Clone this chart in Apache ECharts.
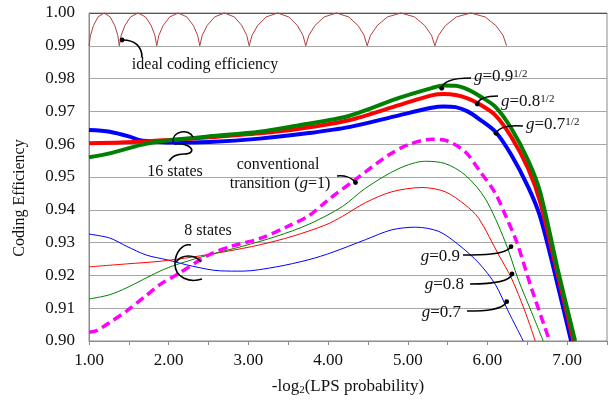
<!DOCTYPE html>
<html>
<head>
<meta charset="utf-8">
<script src="https://cdn.jsdelivr.net/npm/echarts@6/dist/echarts.min.js"></script>
<style>
  html, body { margin: 0; padding: 0; background: #fff; }
  #chart { width: 610px; height: 401px; }
</style>
</head>
<body>
<div id="chart"></div>
<script>
// tick labels
var xTickLabels = ['1.00', '2.00', '3.00', '4.00', '5.00', '6.00', '7.00'];
var yTickLabels = ['0.90', '0.91', '0.92', '0.93', '0.94', '0.95', '0.96', '0.97', '0.98', '0.99', '1.00'];

// ideal coding efficiency (scallops between 0.99 and 1.00)
var idealX = [1.00, 1.019, 1.057, 1.114, 1.19, 1.266, 1.323, 1.361,
  1.38, 1.404, 1.451, 1.521, 1.615, 1.709, 1.780, 1.827,
  1.85, 1.877, 1.931, 2.012, 2.12, 2.228, 2.309, 2.363,
  2.39, 2.421, 2.483, 2.576, 2.70, 2.824, 2.917, 2.979,
  3.01, 3.046, 3.117, 3.223, 3.365, 3.507, 3.614, 3.685,
  3.72, 3.759, 3.836, 3.951, 4.105, 4.259, 4.375, 4.452,
  4.49, 4.533, 4.618, 4.745, 4.915, 5.085, 5.213, 5.298,
  5.34, 5.385, 5.475, 5.61, 5.79, 5.97, 6.105, 6.195, 6.24];
var idealY = [0.990, 0.9932, 0.9962, 0.9988, 1.000, 0.9988, 0.9962, 0.9932,
  0.990, 0.9932, 0.9962, 0.9988, 1.000, 0.9988, 0.9962, 0.9932,
  0.990, 0.9932, 0.9962, 0.9988, 1.000, 0.9988, 0.9962, 0.9932,
  0.990, 0.9932, 0.9962, 0.9988, 1.000, 0.9988, 0.9962, 0.9932,
  0.990, 0.9932, 0.9962, 0.9988, 1.000, 0.9988, 0.9962, 0.9932,
  0.990, 0.9932, 0.9962, 0.9988, 1.000, 0.9988, 0.9962, 0.9932,
  0.990, 0.9932, 0.9962, 0.9988, 1.000, 0.9988, 0.9962, 0.9932,
  0.990, 0.9932, 0.9962, 0.9988, 1.000, 0.9988, 0.9962, 0.9932, 0.990];

// 16 states
var g07sqX = [1.00, 1.26, 1.51, 1.64, 1.76, 2.01, 2.51, 3.14, 3.76, 4.26, 4.89, 5.30, 5.45, 5.60, 5.75, 5.90, 6.10, 6.30, 6.51, 6.66, 6.85, 7.05];
var g07sqY = [0.9643, 0.9638, 0.9623, 0.9612, 0.9609, 0.9605, 0.9607, 0.9617, 0.9634, 0.9652, 0.9688, 0.9711, 0.9715, 0.9713, 0.9700, 0.9676, 0.9638, 0.9567, 0.9470, 0.9380, 0.9202, 0.9000];
var g08sqX = [1.00, 1.40, 1.76, 2.01, 2.51, 3.14, 3.64, 4.26, 4.89, 5.30, 5.45, 5.60, 5.75, 5.90, 6.10, 6.30, 6.51, 6.66, 6.87, 7.08];
var g08sqY = [0.9603, 0.9605, 0.9609, 0.9613, 0.9621, 0.9633, 0.9647, 0.9673, 0.9719, 0.9749, 0.9753, 0.9750, 0.9740, 0.9722, 0.9688, 0.9622, 0.9526, 0.9425, 0.9215, 0.9000];
var g09sqX = [1.00, 1.26, 1.64, 1.80, 2.01, 2.51, 3.14, 3.64, 4.26, 4.89, 5.30, 5.45, 5.60, 5.75, 5.90, 6.10, 6.30, 6.51, 6.66, 6.89, 7.10];
var g09sqY = [0.9560, 0.9572, 0.9597, 0.9605, 0.9612, 0.9624, 0.9638, 0.9658, 0.9686, 0.9741, 0.9771, 0.9779, 0.9778, 0.9767, 0.9747, 0.9714, 0.9648, 0.9551, 0.9455, 0.9210, 0.9000];

// conventional transition (g=1)
var convX = [1.00, 1.10, 1.25, 1.47, 1.70, 1.89, 2.10, 2.51, 2.80, 3.14, 3.50, 3.76, 4.00, 4.33, 4.76, 5.01, 5.30, 5.47, 5.72, 5.91, 6.10, 6.24, 6.37, 6.56, 6.78];
var convY = [0.9027, 0.9032, 0.9055, 0.9091, 0.9135, 0.9172, 0.9202, 0.9263, 0.9290, 0.9312, 0.9350, 0.9382, 0.9430, 0.9490, 0.9567, 0.9599, 0.9615, 0.9612, 0.9577, 0.9516, 0.9450, 0.9375, 0.9300, 0.9155, 0.9000];

// 8 states
var g07X = [1.00, 1.26, 1.47, 1.72, 1.97, 2.30, 2.64, 2.93, 3.35, 3.76, 4.05, 4.47, 4.80, 5.10, 5.39, 5.64, 5.89, 6.10, 6.26, 6.45];
var g07Y = [0.9326, 0.9314, 0.9289, 0.9262, 0.9248, 0.9228, 0.9214, 0.9213, 0.9226, 0.9248, 0.9270, 0.9309, 0.9339, 0.9347, 0.9334, 0.9293, 0.9238, 0.9172, 0.9091, 0.9000];
var g08X = [1.00, 1.47, 1.89, 2.30, 2.72, 3.14, 3.55, 3.97, 4.18, 4.47, 4.80, 5.18, 5.47, 5.72, 5.89, 6.14, 6.30, 6.47, 6.60];
var g08Y = [0.9226, 0.9235, 0.9243, 0.9256, 0.9273, 0.9293, 0.9319, 0.9354, 0.9380, 0.9422, 0.9455, 0.9468, 0.9455, 0.9415, 0.9374, 0.9263, 0.9192, 0.9091, 0.9000];
var g09X = [1.00, 1.26, 1.47, 1.89, 2.10, 2.51, 2.93, 3.35, 3.76, 4.18, 4.47, 4.89, 5.22, 5.47, 5.72, 5.97, 6.22, 6.39, 6.55, 6.70];
var g09Y = [0.9128, 0.9141, 0.9162, 0.9213, 0.9233, 0.9263, 0.9289, 0.9319, 0.9356, 0.9410, 0.9466, 0.9526, 0.9548, 0.9541, 0.9506, 0.9435, 0.9304, 0.9185, 0.9090, 0.9000];

var FONT = '"Liberation Serif", "Times New Roman", serif';

function pts(xs, ys) {
  return xs.map(function (x, i) { return [x, ys[i]]; });
}

function lineSeries(name, xs, ys, color, width, extra) {
  var s = {
    name: name,
    type: 'line',
    data: pts(xs, ys),
    showSymbol: false,
    smooth: 0.3,
    lineStyle: { color: color, width: width },
    z: 2
  };
  return Object.assign(s, extra || {});
}

// annotation helpers (pixel layout)
function curve(x1, y1, c1x, c1y, c2x, c2y, x2, y2) {
  return {
    type: 'bezierCurve', z: 100,
    shape: { x1: x1, y1: y1, cpx1: c1x, cpy1: c1y, cpx2: c2x, cpy2: c2y, x2: x2, y2: y2 },
    style: { stroke: '#000', lineWidth: 1.6, fill: 'none' }
  };
}
function dot(x, y) {
  return { type: 'circle', z: 101, shape: { cx: x, cy: y, r: 2.4 }, style: { fill: '#000' } };
}
var rich = {
  i: { fontStyle: 'italic', fontSize: 17, fontFamily: FONT, fill: '#111' },
  s: { fontSize: 11, fontFamily: FONT, fill: '#111', verticalAlign: 'top' }
};
function label(x, y, text, align, size) {
  return {
    type: 'text', z: 101, x: x, y: y,
    style: {
      text: text, rich: rich, fontSize: size || 16, fontFamily: FONT, fill: '#111',
      align: align || 'center', verticalAlign: 'middle'
    }
  };
}

var graphics = [
  // y axis title
  { type: 'text', z: 101, x: 20, y: 198, rotation: Math.PI / 2,
    style: { text: 'Coding Efficiency', fontSize: 16, fontFamily: FONT, fill: '#111', align: 'center', verticalAlign: 'middle' } },

  label(205, 65, 'ideal coding efficiency'),
  curve(142, 57, 142, 46, 134, 40, 123, 40),
  dot(122, 40),

  label(175, 172, '16 states'),
  curve(173, 142, 172, 131, 189, 128, 193, 137),
  curve(174, 144, 192, 142, 198, 154, 184, 154),
  curve(184, 154, 177, 154, 172, 156, 169, 161),

  label(208, 231, '8 states'),
  curve(191, 245, 183, 243, 175, 252, 175, 264),
  curve(175, 264, 175, 278, 190, 283, 202, 279),
  curve(176, 262, 182, 254, 195, 254, 201, 262),

  label(278, 165, 'conventional'),
  label(280, 184, 'transition ({i|g}=1)'),
  curve(337, 176, 345, 175, 352, 178, 355.5, 182.5),
  dot(355.5, 182.5),

  label(474, 77, '{i|g}=0.9{s|1/2}', 'left', 17),
  curve(441.7, 88.3, 443, 81, 455, 78, 471, 78),
  dot(441.7, 88.3),
  label(501, 102, '{i|g}=0.8{s|1/2}', 'left', 17),
  curve(477.3, 104, 479, 98, 488, 96, 498, 96),
  dot(477.3, 104),
  label(526, 125, '{i|g}=0.7{s|1/2}', 'left', 17),
  curve(496, 133.3, 499, 127, 510, 125, 523, 126),
  dot(496, 133.3),

  label(460, 257, '{i|g}=0.9', 'right', 17),
  curve(463, 255, 480, 255, 505, 255, 511, 247),
  dot(511, 246.7),
  label(464, 285, '{i|g}=0.8', 'right', 17),
  curve(470, 284, 490, 284, 510, 282, 512, 274),
  dot(512, 274),
  label(461, 313, '{i|g}=0.7', 'right', 17),
  curve(467, 311, 485, 311, 503, 310, 506.7, 301.7),
  dot(506.7, 301.7)
];

var splitColors = ['#a6a6a6', '#a6a6a6', '#a6a6a6', '#a6a6a6', '#a6a6a6', '#a6a6a6',
  '#a6a6a6', '#a6a6a6', '#a6a6a6', '#a6a6a6', '#555'];

var chart = echarts.init(document.getElementById('chart'));
chart.setOption({
  animation: false,
  backgroundColor: '#fff',
  grid: { left: 89, right: 1, top: 13, bottom: 58, show: true, borderColor: '#8c8c8c', borderWidth: 1 },
  xAxis: {
    type: 'value', min: 1, max: 7.5, interval: 0.5,
    name: '-log{sub|2}(LPS probability)',
    nameLocation: 'middle', nameGap: 36,
    nameTextStyle: {
      fontSize: 17, fontFamily: FONT, color: '#111',
      rich: { sub: { fontSize: 11, fontFamily: FONT, color: '#111', verticalAlign: 'bottom', padding: [8, 0, 0, 0] } }
    },
    axisLine: { lineStyle: { color: '#8c8c8c', width: 1 } },
    axisTick: { show: true, length: 4, lineStyle: { color: '#8c8c8c' } },
    splitLine: { show: false },
    axisLabel: {
      fontSize: 17, fontFamily: FONT, color: '#111', margin: 11,
      formatter: function (v, i) { return i % 2 === 0 ? (xTickLabels[i / 2] || '') : ''; }
    }
  },
  yAxis: {
    type: 'value', min: 0.9, max: 1.0, interval: 0.01,
    axisLine: { show: true, lineStyle: { color: '#8c8c8c', width: 1 } },
    axisTick: { show: false },
    splitLine: { show: true, lineStyle: { color: splitColors, width: 1 } },
    axisLabel: {
      fontSize: 17, fontFamily: FONT, color: '#111', margin: 14,
      formatter: function (v, i) { return yTickLabels[i]; }
    }
  },
  series: [
    lineSeries('ideal coding efficiency', idealX, idealY, '#b04040', 1, { smooth: false, clip: false }),
    lineSeries('g=0.7', g07X, g07Y, '#0000ff', 1),
    lineSeries('g=0.8', g08X, g08Y, '#ff0000', 1),
    lineSeries('g=0.9', g09X, g09Y, '#008000', 1),
    lineSeries('conventional (g=1)', convX, convY, '#ff00ff', 3.5, { lineStyle: { color: '#ff00ff', width: 3.5, type: [9, 5] } }),
    lineSeries('g=0.7^1/2', g07sqX, g07sqY, '#0000ff', 4),
    lineSeries('g=0.8^1/2', g08sqX, g08sqY, '#ff0000', 4),
    lineSeries('g=0.9^1/2', g09sqX, g09sqY, '#008000', 4)
  ],
  graphic: graphics
});
</script>
</body>
</html>
